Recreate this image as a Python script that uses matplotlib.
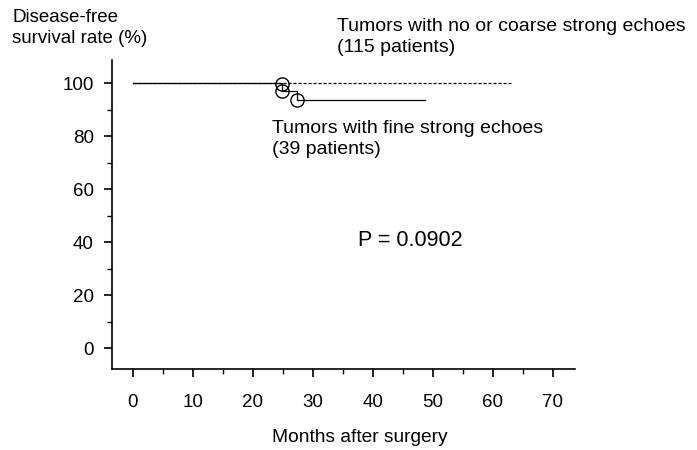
import matplotlib
matplotlib.use("Agg")
import matplotlib.pyplot as plt
from matplotlib.ticker import MultipleLocator

plt.rcParams["font.family"] = ["Liberation Sans", "DejaVu Sans"]

# Kaplan-Meier curves (months, % disease-free)
coarse_months = [0, 24.9, 63.0]
coarse_rate = [100, 100, 100]
coarse_cens_months = [24.9]
coarse_cens_rate = [99.6]

fine_months = [0, 24.8, 27.3, 48.7]
fine_rate = [100, 97.0, 93.6, 93.6]
fine_cens_months = [24.8, 27.3]
fine_cens_rate = [97.0, 93.6]

x_ticks = [0, 10, 20, 30, 40, 50, 60, 70]
y_ticks = [0, 20, 40, 60, 80, 100]
p_text = "P = 0.0902"

W, Hh = 697, 450


def px(x, y):
    return x / W, 1 - y / Hh


fig = plt.figure(figsize=(W / 100, Hh / 100), dpi=100)
ax = fig.add_axes([112 / W, (Hh - 369) / Hh, 463 / W, 309 / Hh])

ax.plot(coarse_months, coarse_rate, color="black", lw=0.9, dashes=(2.5, 1.5))
ax.plot(fine_months, fine_rate, color="black", lw=0.9, drawstyle="steps-post")
ax.plot(coarse_cens_months, coarse_cens_rate, "o", ms=9.5, mfc="none", mec="black", mew=1.0)
ax.plot(fine_cens_months, fine_cens_rate, "o", ms=9.5, mfc="none", mec="black", mew=1.0)

ax.set_xlim(-3.5, 73.7)
ax.set_ylim(-7.9, 108.7)
ax.set_xticks(x_ticks)
ax.set_yticks(y_ticks)
ax.xaxis.set_minor_locator(MultipleLocator(5))
ax.yaxis.set_minor_locator(MultipleLocator(10))
for s in ("top", "right"):
    ax.spines[s].set_visible(False)
for s in ("left", "bottom"):
    ax.spines[s].set_linewidth(1.2)
ax.tick_params(which="major", direction="out", length=6, width=1.2, labelsize=13.5)
ax.tick_params(which="minor", direction="out", length=3.5, width=1.0)
ax.tick_params(axis="x", which="major", pad=12)
ax.tick_params(axis="y", which="major", pad=7)

fig.text(*px(360, 438), "Months after surgery", ha="center", va="center", fontsize=13.8)
fig.text(*px(12, 9), "Disease-free\nsurvival rate (%)", ha="left", va="top",
         fontsize=13.5, linespacing=1.3)
fig.text(*px(337, 18), "Tumors with no or coarse strong echoes\n(115 patients)",
         ha="left", va="top", fontsize=14, linespacing=1.3)
fig.text(*px(272, 120), "Tumors with fine strong echoes\n(39 patients)",
         ha="left", va="top", fontsize=14, linespacing=1.3)
fig.text(*px(410, 240), p_text, ha="center", va="center", fontsize=15.5)

fig.savefig("out.png", dpi=100)
